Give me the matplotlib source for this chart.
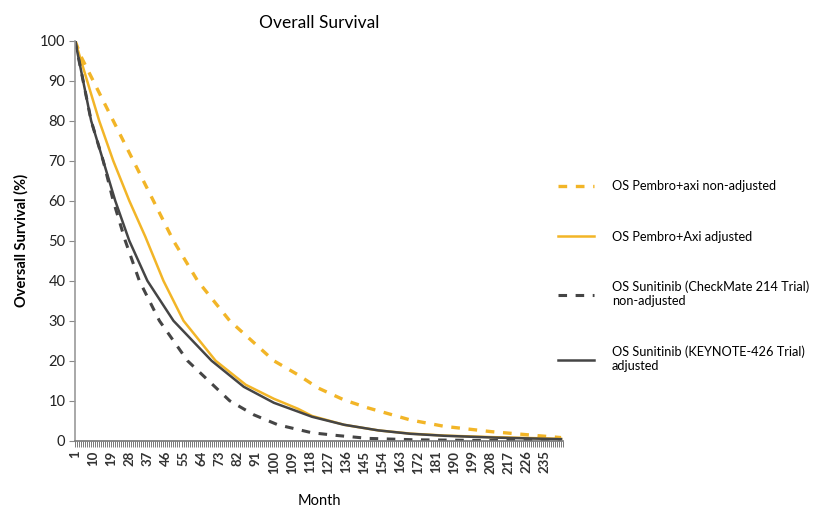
import matplotlib.pyplot as plt
import numpy as np

# meses y supervivencia (%)
m_pna = [1, 4, 10, 20, 30, 40, 50, 62, 78, 100, 112, 122, 135, 147, 168, 185, 208, 231, 243]
os_pna = [100, 96, 90, 80, 70, 60, 50, 40, 30, 20, 16.5, 13.2, 10.2, 8.2, 5.2, 3.6, 2.3, 1.3, 0.8]

m_pa = [1, 7, 13, 20, 28, 36, 45, 55, 71, 86, 100, 112, 119, 135, 152, 168, 185, 210, 243]
os_pa = [100, 90, 80, 70, 60, 51, 40, 30, 20, 14, 10.5, 8, 6.2, 4, 2.6, 1.8, 1.3, 0.9, 0.5]

m_sna = [1, 5, 9, 15, 20, 26, 33, 43, 57, 78, 90, 102, 119, 132, 147, 170, 200, 243]
os_sna = [100, 90, 80, 70, 60, 50, 40, 30, 20, 10, 6.5, 4, 2, 1.3, 0.6, 0.25, 0.1, 0]

m_sa = [1, 5, 9, 15, 21, 28, 37, 50, 69, 85, 100, 112, 119, 135, 152, 168, 185, 210, 243]
os_sa = [100, 90, 80, 70, 60, 50, 40, 30, 20, 13.5, 9.5, 7.3, 6, 4, 2.6, 1.75, 1.25, 0.8, 0.4]

x_lab = list(range(1, 236, 9))

c_y = '#F2B527'
c_g = '#454545'
fuente = 'Lato'

fig = plt.figure(figsize=(8.16, 5.09), dpi=100)
ax = fig.add_axes([0.092, 0.134, 0.598, 0.786])

ax.plot(m_pna, os_pna, color=c_y, lw=2.4, dashes=(2.6, 2.6), label='OS Pembro+axi non-adjusted')
ax.plot(m_pa, os_pa, color=c_y, lw=1.8, label='OS Pembro+Axi adjusted')
ax.plot(m_sna, os_sna, color=c_g, lw=2.2, dashes=(2.8, 2.8),
        label='OS Sunitinib (CheckMate 214 Trial)\nnon-adjusted')
ax.plot(m_sa, os_sa, color=c_g, lw=1.8, label='OS Sunitinib (KEYNOTE-426 Trial)\nadjusted')

ax.set_xlim(1, 244)
ax.set_ylim(0, 100)
ax.set_yticks(range(0, 101, 10))
ax.set_xticks(x_lab)
ax.set_xticklabels([str(v) for v in x_lab], rotation=90, fontsize=9.5,
                   fontweight='bold', family=fuente, color='#333333')
ax.set_xticks(np.arange(1, 245, 1), minor=True)
ax.tick_params(axis='x', which='both', length=4, width=0.5, color='#444444', pad=3)
ax.tick_params(axis='y', length=4, width=0.8, color='#888888', labelsize=10.5, pad=3)
for t in ax.get_yticklabels():
    t.set_family(fuente)
    t.set_color('#222222')

for s in ['top', 'right']:
    ax.spines[s].set_visible(False)
ax.spines['left'].set_color('#999999')
ax.spines['bottom'].set_color('#777777')
ax.spines['left'].set_linewidth(1.2)
ax.spines['bottom'].set_linewidth(1.2)

ax.set_title('Overall Survival', fontsize=12.5, family=fuente, pad=9, x=0.5)
ax.set_ylabel('Oversall Survival (%)', fontsize=10.5, fontweight='bold', family=fuente,
              labelpad=8)
ax.set_xlabel('Month', fontsize=10.5, family=fuente, labelpad=15)

leg = ax.legend(loc='upper left', bbox_to_anchor=(0.967, 0.68), frameon=False,
                prop={'family': fuente, 'size': 9.2}, handlelength=2.8,
                labelspacing=3.0, handletextpad=1.4)

fig.savefig('out.png', dpi=100)
